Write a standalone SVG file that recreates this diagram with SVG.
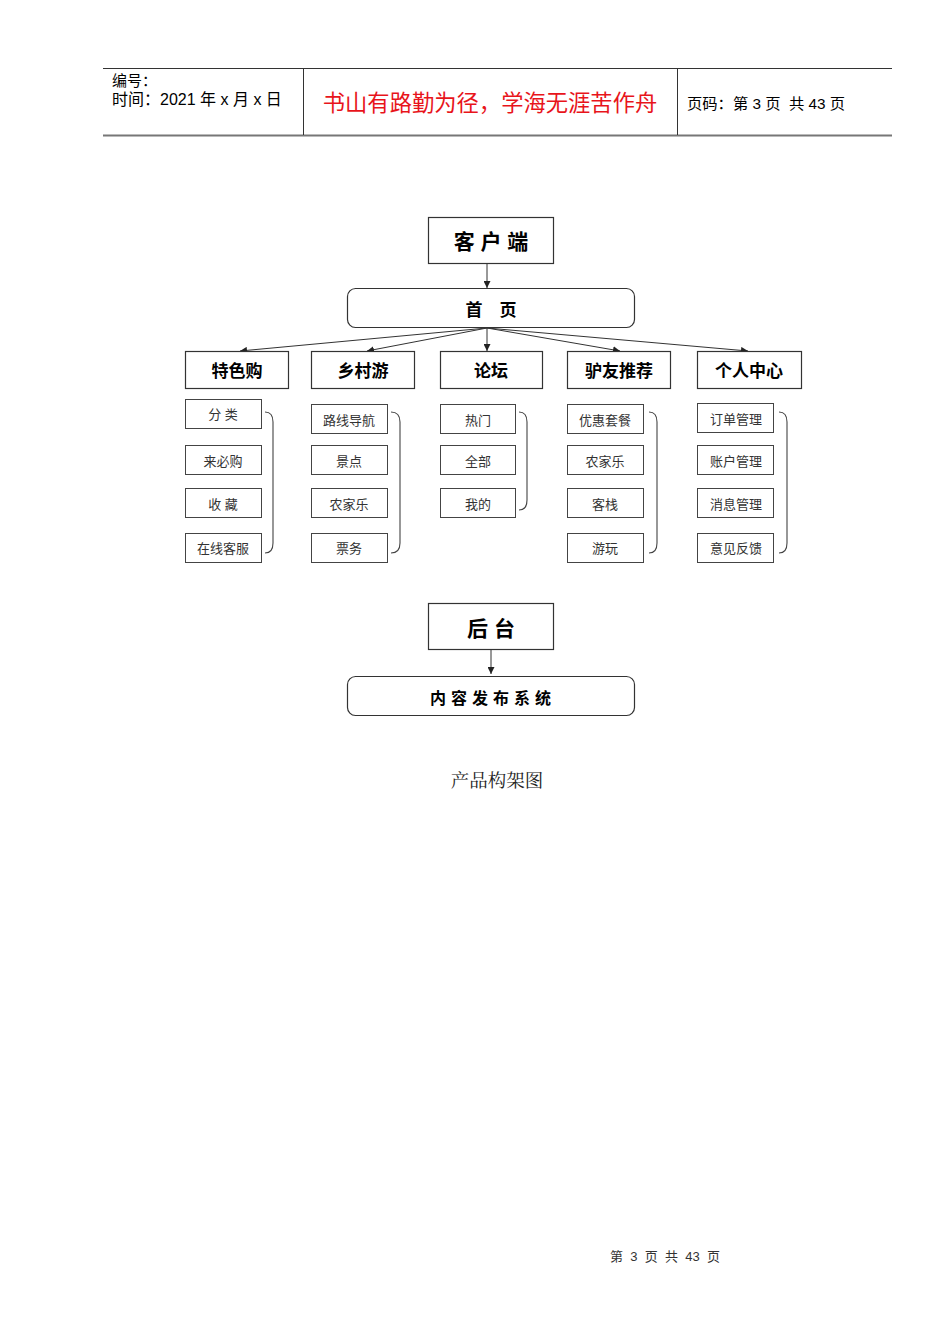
<svg xmlns="http://www.w3.org/2000/svg" width="950" height="1344" viewBox="0 0 950 1344">
<style>
.box{fill:#fff;stroke:#333;stroke-width:1.2}
.sub{fill:#fff;stroke:#444;stroke-width:1}
.t{font-family:"Liberation Sans","Noto Sans CJK SC",sans-serif;text-anchor:middle;fill:#000}
.cat{font-size:17px;font-weight:bold}
.big{font-size:21px;font-weight:bold}
.s{font-size:13px;fill:#333}
.c{fill:none;stroke:#333;stroke-width:1}
.br{fill:none;stroke:#444;stroke-width:1.1}
.h{font-family:"Liberation Sans","Noto Sans CJK SC",sans-serif;fill:#000}
</style>
<defs>
<marker id="ah" viewBox="0 0 10 10" refX="10" refY="5" markerWidth="7" markerHeight="7" orient="auto" markerUnits="userSpaceOnUse">
<path d="M0,0 L10,5 L0,10 z" fill="#222"/>
</marker>
</defs>
<rect width="950" height="1344" fill="#fff"/>
<g id="header">
<line x1="103" y1="68.5" x2="892" y2="68.5" stroke="#333" stroke-width="1"/>
<line x1="103" y1="135.5" x2="892" y2="135.5" stroke="#777" stroke-width="2"/>
<line x1="303.5" y1="68" x2="303.5" y2="135" stroke="#333" stroke-width="1"/>
<line x1="677.5" y1="68" x2="677.5" y2="135" stroke="#333" stroke-width="1"/>
<text class="h" x="112" y="86" font-size="15">编号：</text>
<text class="h" x="112" y="105" font-size="16" xml:space="preserve">时间：2021 年 x 月 x 日</text>
<text class="h" x="490" y="111" font-size="22.3" text-anchor="middle" style="fill:#e8141b">书山有路勤为径，学海无涯苦作舟</text>
<text class="h" x="687" y="109" font-size="15.3" xml:space="preserve">页码：第 3 页  共 43 页</text>
</g>
<g id="connectors">
<line class="c" x1="487" y1="263" x2="487" y2="288" marker-end="url(#ah)"/>
<line class="c" x1="487" y1="328" x2="240" y2="351" marker-end="url(#ah)"/>
<line class="c" x1="487" y1="328" x2="367" y2="351" marker-end="url(#ah)"/>
<line class="c" x1="487" y1="328" x2="487" y2="351" marker-end="url(#ah)"/>
<line class="c" x1="487" y1="328" x2="620" y2="351" marker-end="url(#ah)"/>
<line class="c" x1="487" y1="328" x2="748" y2="351" marker-end="url(#ah)"/>
<line class="c" x1="491" y1="649" x2="491" y2="674" marker-end="url(#ah)"/>
<path class="br" d="M265,412 Q273,412 273,422 L273,543 Q273,553 265,553"/>
<path class="br" d="M391,412 Q400,412 400,422 L400,543 Q400,553 391,553"/>
<path class="br" d="M519,412 Q527,412 527,422 L527,500 Q527,510 519,510"/>
<path class="br" d="M649,412 Q657,412 657,422 L657,543 Q657,553 649,553"/>
<path class="br" d="M779,412 Q787,412 787,422 L787,543 Q787,553 779,553"/>
</g>
<g id="client"><rect class="box" x="428.5" y="217.5" width="125" height="46"/><text class="t big" x="491" y="249">客 户 端</text></g>
<g id="home"><rect class="box" x="347.5" y="288.5" width="287" height="39" rx="8"/><text class="t cat" x="491" y="316">首　页</text></g>
<g id="cat1"><rect class="box" x="185.5" y="351.5" width="103" height="37"/><text class="t cat" x="237" y="377">特色购</text></g>
<g id="cat2"><rect class="box" x="311.5" y="351.5" width="103" height="37"/><text class="t cat" x="363" y="377">乡村游</text></g>
<g id="cat3"><rect class="box" x="440.5" y="351.5" width="102" height="37"/><text class="t cat" x="491" y="377">论坛</text></g>
<g id="cat4"><rect class="box" x="567.5" y="351.5" width="103" height="37"/><text class="t cat" x="619" y="377">驴友推荐</text></g>
<g id="cat5"><rect class="box" x="697.5" y="351.5" width="104" height="37"/><text class="t cat" x="749" y="377">个人中心</text></g>

<g id="s1a"><rect class="sub" x="185.5" y="399.5" width="76" height="29"/><text class="t s" x="223" y="419">分 类</text></g>
<g id="s1b"><rect class="sub" x="185.5" y="445.5" width="76" height="29"/><text class="t s" x="223" y="466">来必购</text></g>
<g id="s1c"><rect class="sub" x="185.5" y="488.5" width="76" height="29"/><text class="t s" x="223" y="509">收 藏</text></g>
<g id="s1d"><rect class="sub" x="185.5" y="533.5" width="76" height="29"/><text class="t s" x="223" y="553">在线客服</text></g>

<g id="s2a"><rect class="sub" x="311.5" y="404.5" width="76" height="29"/><text class="t s" x="349" y="425">路线导航</text></g>
<g id="s2b"><rect class="sub" x="311.5" y="445.5" width="76" height="29"/><text class="t s" x="349" y="466">景点</text></g>
<g id="s2c"><rect class="sub" x="311.5" y="488.5" width="76" height="29"/><text class="t s" x="349" y="509">农家乐</text></g>
<g id="s2d"><rect class="sub" x="311.5" y="533.5" width="76" height="29"/><text class="t s" x="349" y="553">票务</text></g>

<g id="s3a"><rect class="sub" x="440.5" y="404.5" width="75" height="29"/><text class="t s" x="478" y="425">热门</text></g>
<g id="s3b"><rect class="sub" x="440.5" y="445.5" width="75" height="29"/><text class="t s" x="478" y="466">全部</text></g>
<g id="s3c"><rect class="sub" x="440.5" y="488.5" width="75" height="29"/><text class="t s" x="478" y="509">我的</text></g>

<g id="s4a"><rect class="sub" x="567.5" y="404.5" width="76" height="29"/><text class="t s" x="605" y="425">优惠套餐</text></g>
<g id="s4b"><rect class="sub" x="567.5" y="445.5" width="76" height="29"/><text class="t s" x="605" y="466">农家乐</text></g>
<g id="s4c"><rect class="sub" x="567.5" y="488.5" width="76" height="29"/><text class="t s" x="605" y="509">客栈</text></g>
<g id="s4d"><rect class="sub" x="567.5" y="533.5" width="76" height="29"/><text class="t s" x="605" y="553">游玩</text></g>

<g id="s5a"><rect class="sub" x="697.5" y="403.5" width="76" height="29"/><text class="t s" x="736" y="424">订单管理</text></g>
<g id="s5b"><rect class="sub" x="697.5" y="445.5" width="76" height="29"/><text class="t s" x="736" y="466">账户管理</text></g>
<g id="s5c"><rect class="sub" x="697.5" y="488.5" width="76" height="29"/><text class="t s" x="736" y="509">消息管理</text></g>
<g id="s5d"><rect class="sub" x="697.5" y="533.5" width="76" height="29"/><text class="t s" x="736" y="553">意见反馈</text></g>

<g id="backend"><rect class="box" x="428.5" y="603.5" width="125" height="46"/><text class="t big" x="491" y="636">后 台</text></g>
<g id="cms"><rect class="box" x="347.5" y="676.5" width="287" height="39" rx="8"/><text class="t" x="493" y="704" font-size="16" font-weight="bold" letter-spacing="5">内容发布系统</text></g>

<text x="497" y="787" font-family="'Liberation Serif','Noto Serif CJK SC','Noto Sans CJK SC',serif" font-size="18.5" text-anchor="middle" fill="#222">产品构架图</text>
<text x="665" y="1261" font-family="'Liberation Sans','Noto Sans CJK SC',sans-serif" font-size="13" text-anchor="middle" fill="#333" xml:space="preserve">第  3  页  共  43  页</text>
</svg>
